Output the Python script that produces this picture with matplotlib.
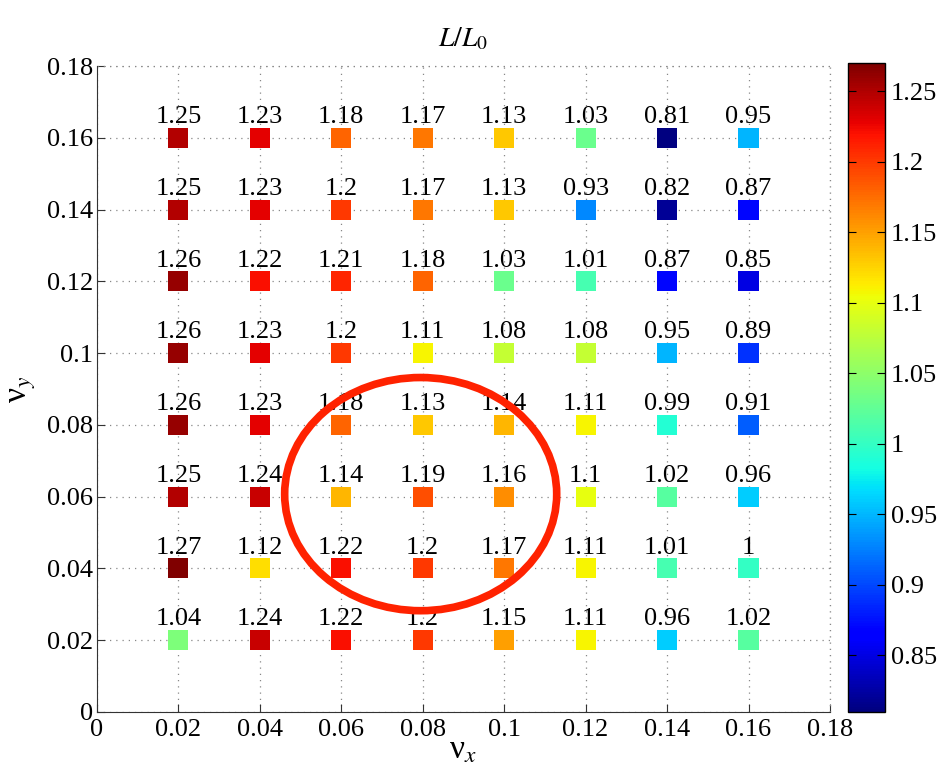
import matplotlib
matplotlib.use("Agg")
import matplotlib.pyplot as plt
from matplotlib.patches import Ellipse
import numpy as np

plt.rcParams['font.family'] = ['Liberation Serif', 'DejaVu Serif']
plt.rcParams['mathtext.fontset'] = 'stix'

nu_x = [0.02, 0.04, 0.06, 0.08, 0.10, 0.12, 0.14, 0.16]
nu_y = [0.16, 0.14, 0.12, 0.10, 0.08, 0.06, 0.04, 0.02]
# rows correspond to nu_y (top to bottom), columns to nu_x
ratio = [
    [1.25, 1.23, 1.18, 1.17, 1.13, 1.03, 0.81, 0.95],
    [1.25, 1.23, 1.20, 1.17, 1.13, 0.93, 0.82, 0.87],
    [1.26, 1.22, 1.21, 1.18, 1.03, 1.01, 0.87, 0.85],
    [1.26, 1.23, 1.20, 1.11, 1.08, 1.08, 0.95, 0.89],
    [1.26, 1.23, 1.18, 1.13, 1.14, 1.11, 0.99, 0.91],
    [1.25, 1.24, 1.14, 1.19, 1.16, 1.10, 1.02, 0.96],
    [1.27, 1.12, 1.22, 1.20, 1.17, 1.11, 1.01, 1.00],
    [1.04, 1.24, 1.22, 1.20, 1.15, 1.11, 0.96, 1.02],
]
labels = [
    ["1.25", "1.23", "1.18", "1.17", "1.13", "1.03", "0.81", "0.95"],
    ["1.25", "1.23", "1.2", "1.17", "1.13", "0.93", "0.82", "0.87"],
    ["1.26", "1.22", "1.21", "1.18", "1.03", "1.01", "0.87", "0.85"],
    ["1.26", "1.23", "1.2", "1.11", "1.08", "1.08", "0.95", "0.89"],
    ["1.26", "1.23", "1.18", "1.13", "1.14", "1.11", "0.99", "0.91"],
    ["1.25", "1.24", "1.14", "1.19", "1.16", "1.1", "1.02", "0.96"],
    ["1.27", "1.12", "1.22", "1.2", "1.17", "1.11", "1.01", "1"],
    ["1.04", "1.24", "1.22", "1.2", "1.15", "1.11", "0.96", "1.02"],
]
ticks = [0, 0.02, 0.04, 0.06, 0.08, 0.1, 0.12, 0.14, 0.16, 0.18]
tick_labels = ["0", "0.02", "0.04", "0.06", "0.08", "0.1", "0.12", "0.14", "0.16", "0.18"]
cbar_ticks = [0.85, 0.9, 0.95, 1.0, 1.05, 1.1, 1.15, 1.2, 1.25]
cbar_labels = ["0.85", "0.9", "0.95", "1", "1.05", "1.1", "1.15", "1.2", "1.25"]

X, Y = np.meshgrid(nu_x, nu_y)
V = np.array(ratio)

fig = plt.figure(figsize=(9.41, 7.78), dpi=100)
ax = fig.add_axes([0.103, 0.085, 0.779, 0.830])
cax = fig.add_axes([0.901, 0.085, 0.040, 0.834])

sc = ax.scatter(X.ravel(), Y.ravel(), c=V.ravel(), cmap='jet', marker='s', s=210,
                vmin=V.min(), vmax=V.max(), edgecolors='none', zorder=3)

for i in range(len(nu_y)):
    for j in range(len(nu_x)):
        ax.annotate(labels[i][j], (nu_x[j], nu_y[i]), xytext=(0, 7), textcoords='offset points',
                    ha='center', va='bottom', fontsize=19, zorder=4)

ell = Ellipse((0.0795, 0.0607), 0.0668, 0.0650, fill=False, edgecolor='#ff2200', linewidth=5.5, zorder=5)
ax.add_patch(ell)

ax.set_xlim(0, 0.18)
ax.set_ylim(0, 0.18)
ax.set_xticks(ticks)
ax.set_xticklabels(tick_labels)
ax.set_yticks(ticks)
ax.set_yticklabels(tick_labels)
ax.tick_params(direction='in', labelsize=19, length=6, color='#333333', pad=3)
ax.tick_params(axis='x', pad=5)
ax.grid(True, linestyle=(0, (1, 4)), color='#888888', linewidth=0.9)
for side in ['top', 'right']:
    ax.spines[side].set_visible(False)
for side in ['left', 'bottom']:
    ax.spines[side].set_color('#333333')
# dotted frame lines at the upper limits
ax.axhline(0.18, linestyle=(0, (1, 4)), color='#888888', linewidth=0.9, clip_on=False)
ax.axvline(0.18, linestyle=(0, (1, 4)), color='#888888', linewidth=0.9, clip_on=False)

ax.set_xlabel('ν$_x$', fontsize=24, labelpad=-4)
ax.set_ylabel('ν$_y$', fontsize=24, labelpad=6)
ax.set_title(r'$L/L_0$', fontsize=20, pad=14)

cb = fig.colorbar(sc, cax=cax)
cb.set_ticks(cbar_ticks)
cb.set_ticklabels(cbar_labels)
cax.tick_params(direction='in', labelsize=19, length=6, left=True, right=True, pad=4)
cb.outline.set_linewidth(1.0)

fig.savefig('out.png', dpi=100)
